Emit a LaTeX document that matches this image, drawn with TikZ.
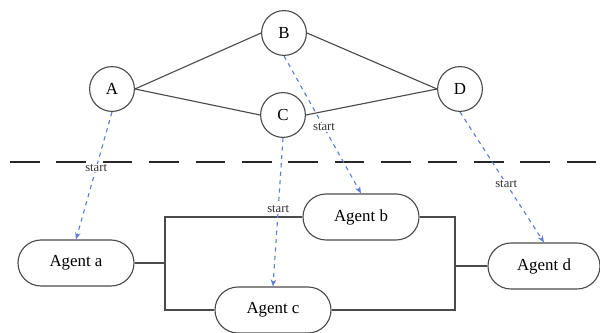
\documentclass[tikz,border=0pt]{standalone}
\usepackage{fontspec}
\setmainfont{Liberation Serif}
\usepackage{xcolor}
\usetikzlibrary{
    arrows.meta,
    shapes.misc,
    calc,
    positioning
}
\definecolor{startblue}{RGB}{95,125,215}
\definecolor{linegray}{RGB}{75,75,75}
\tikzset{
    place/.style={circle, draw=linegray, thick, minimum size=1.12cm, inner sep=0pt, font=\large},
    agent/.style={rounded rectangle, draw=linegray, thick, minimum width=2.9cm, minimum height=1.15cm, inner sep=0pt, font=\large},
    start/.style={->, startblue, dashed, thick, >={Stealth[length=5pt, width=4pt]}},
    startlabel/.style={fill=white, inner sep=0.5pt, font=\small, text=black!80}
}

\begin{document}
\begin{tikzpicture}[x=0.025cm, y=-0.025cm]
                        \useasboundingbox (0, 0) rectangle (600, 333);
                        \draw[black!85, line width=1.8pt, dash pattern=on 21pt off 12pt] (10, 162) -- (600, 162);
                        \node[place] (a) at (112, 89) {A};
                        \node[place] (b) at (284, 33) {B};
                        \node[place] (c) at (283, 115) {C};
                        \node[place] (d) at (460, 89) {D};
                        \node[agent] (aa) at (76, 263) {Agent a};
                        \node[agent] (ab) at (361, 217) {Agent b};
                        \node[agent] (ac) at (273, 310) {Agent c};
                        \node[agent, minimum width=2.8cm] (ad) at (544, 266) {Agent d};
                        \coordinate (l) at (165, 263);
                        \coordinate (r) at (455, 266);
                        \draw[linegray, thick]
                        (a.east) edge (b.west)
                        (a.east) edge (c.west)
                        (b.east) edge (d.west)
                        (c.east) edge (d.west)
                        (aa.east) edge (l)
                        (ad.west) edge (r);
                        \draw[linegray, thick] (ab.west) -| (l) |- (ac.west);
                        \draw[linegray, thick] (ab.east) -| (r) |- (ac.east);
                        \draw
                        (a.south) edge[start] node[startlabel, pos=0.44] {start} (aa.north)
                        (b.south) edge[start] node[startlabel, pos=0.52] {start} (ab.north)
                        (c.south) edge[start] node[startlabel, pos=0.48] {start} (ac.north)
                        (d.south) edge[start] node[startlabel, pos=0.55] {start} (ad.north);
                    \end{tikzpicture}
\end{document}
